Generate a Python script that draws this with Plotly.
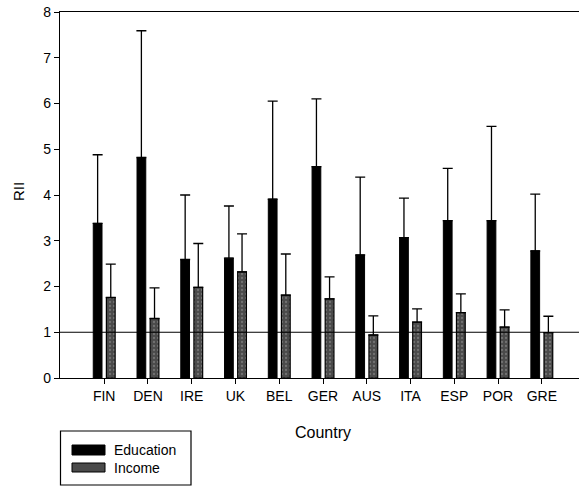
import plotly.graph_objects as go

countries = ["FIN", "DEN", "IRE", "UK", "BEL", "GER", "AUS", "ITA", "ESP", "POR", "GRE"]
education = [3.38, 4.82, 2.59, 2.62, 3.91, 4.62, 2.69, 3.07, 3.44, 3.44, 2.78]
education_upper = [4.88, 7.59, 4.00, 3.76, 6.05, 6.10, 4.39, 3.93, 4.58, 5.50, 4.02]
income = [1.76, 1.30, 1.98, 2.32, 1.81, 1.73, 0.94, 1.22, 1.43, 1.11, 0.99]
income_upper = [2.49, 1.97, 2.94, 3.15, 2.71, 2.21, 1.36, 1.51, 1.84, 1.49, 1.35]
y_ticks = [0, 1, 2, 3, 4, 5, 6, 7, 8]

FONT = "Liberation Sans, Arial, sans-serif"
EDU_COLOR = "#000000"
INC_COLOR = "#4a4a4a"

edu_plus = [u - v for u, v in zip(education_upper, education)]
inc_plus = [u - v for u, v in zip(income_upper, income)]

fig = go.Figure()
fig.add_trace(go.Bar(
    x=countries, y=education, name="Education",
    width=0.2, offset=-0.25,
    marker=dict(color=EDU_COLOR, line=dict(color="black", width=1)),
    error_y=dict(type="data", symmetric=False, array=edu_plus,
                 arrayminus=[0] * len(education),
                 color="black", thickness=1.3, width=5),
    showlegend=False,
))
fig.add_trace(go.Bar(
    x=countries, y=income, name="Income",
    width=0.2, offset=0.05,
    marker=dict(color=INC_COLOR, line=dict(color="black", width=1.2),
                pattern=dict(shape=".", fgcolor="#9a9a9a", bgcolor=INC_COLOR,
                             size=4, solidity=0.25)),
    error_y=dict(type="data", symmetric=False, array=inc_plus,
                 arrayminus=[0] * len(income),
                 color="black", thickness=1.3, width=5),
    showlegend=False,
))

# reference line at RII = 1
fig.add_hline(y=1, line=dict(color="black", width=1.2), layer="above")

# custom legend
def py(p):
    return (378 - p) / 366.0

def px(p):
    return (p - 60) / 519.0

shapes = [
    dict(type="rect", xref="paper", yref="paper", x0=px(60.5), x1=px(191),
         y0=py(485), y1=py(431), line=dict(color="black", width=1.2),
         fillcolor="white"),
    dict(type="rect", xref="paper", yref="paper", x0=px(72), x1=px(105),
         y0=py(455), y1=py(445), line=dict(color="black", width=1),
         fillcolor=EDU_COLOR),
    dict(type="rect", xref="paper", yref="paper", x0=px(72), x1=px(105),
         y0=py(472), y1=py(463), line=dict(color="black", width=1),
         fillcolor=INC_COLOR),
]
for s in shapes:
    fig.add_shape(**s)

fig.add_annotation(text="Education", xref="paper", yref="paper", x=px(112),
                   y=py(450), xanchor="left", yanchor="middle", showarrow=False,
                   font=dict(family=FONT, size=14, color="black"))
fig.add_annotation(text="Income", xref="paper", yref="paper", x=px(112),
                   y=py(468), xanchor="left", yanchor="middle", showarrow=False,
                   font=dict(family=FONT, size=14, color="black"))
fig.add_annotation(text="Country", xref="paper", yref="paper", x=px(323),
                   y=py(432), xanchor="center", yanchor="middle", showarrow=False,
                   font=dict(family=FONT, size=16, color="black"))
fig.add_annotation(text="RII", xref="paper", yref="paper", x=px(18),
                   y=py(192), xanchor="center", yanchor="middle", showarrow=False,
                   textangle=-90,
                   font=dict(family=FONT, size=15, color="black"))

fig.update_layout(
    width=579, height=486,
    margin=dict(l=60, r=0, t=12, b=108),
    paper_bgcolor="white", plot_bgcolor="white",
    barmode="overlay",
    font=dict(family=FONT, size=14, color="black"),
    xaxis=dict(
        range=[-1.01, 10.85], showgrid=False, zeroline=False,
        showline=True, linecolor="black", linewidth=1.2, mirror=True,
        ticks="outside", ticklen=5, tickcolor="black", tickwidth=1,
        tickfont=dict(family=FONT, size=14),
    ),
    yaxis=dict(
        range=[0, 8], tickvals=y_ticks, showgrid=False, zeroline=False,
        showline=True, linecolor="black", linewidth=1.2,
        ticks="outside", ticklen=5, tickcolor="black", tickwidth=1,
        tickfont=dict(family=FONT, size=14),
    ),
)

fig.write_html("out.html")
